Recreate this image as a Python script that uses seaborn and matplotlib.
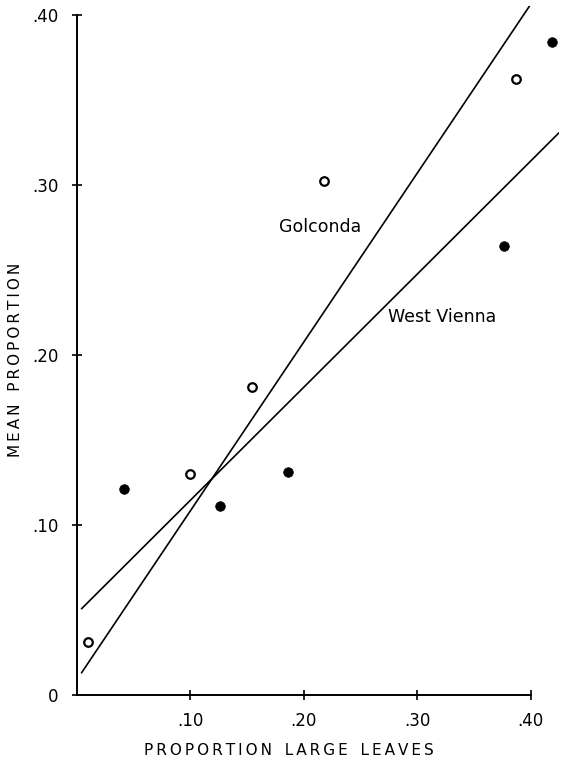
import numpy as np
import pandas as pd
import matplotlib
matplotlib.use("Agg")
import matplotlib.pyplot as plt
import seaborn as sns

# Golconda (open circles)
golconda_x = [0.010, 0.100, 0.154, 0.218, 0.387]
golconda_y = [0.031, 0.130, 0.181, 0.302, 0.362]
# West Vienna (filled circles)
vienna_x = [0.041, 0.126, 0.186, 0.376, 0.419]
vienna_y = [0.121, 0.111, 0.131, 0.264, 0.384]

# fitted lines: slope, intercept and x-extent
golconda_fit = (0.993, 0.009)
golconda_span = [0.004, 0.400]
vienna_fit = (0.665, 0.048)
vienna_span = [0.004, 0.425]

x_ticks = [0.10, 0.20, 0.30, 0.40]
x_tick_labels = [".10", ".20", ".30", ".40"]
y_ticks = [0.0, 0.10, 0.20, 0.30, 0.40]
y_tick_labels = ["0", ".10", ".20", ".30", ".40"]


def spaced(s):
    # loose letter spacing like the original lettering
    thin = "\u2009"
    return ("  " + thin).join(thin.join(w) for w in s.split(" "))


sns.set_style("ticks")
plt.rcParams["font.family"] = ["DejaVu Sans"]
plt.rcParams["text.color"] = "black"
plt.rcParams["axes.labelcolor"] = "black"
plt.rcParams["xtick.color"] = "black"
plt.rcParams["ytick.color"] = "black"
plt.rcParams["axes.edgecolor"] = "black"

fig = plt.figure(figsize=(5.62, 7.67), dpi=100)
ax = fig.add_axes([0.137, 0.094, 0.858, 0.898])

pts = pd.concat([
    pd.DataFrame({"x": golconda_x, "y": golconda_y, "site": "Golconda"}),
    pd.DataFrame({"x": vienna_x, "y": vienna_y, "site": "West Vienna"}),
])
sns.scatterplot(data=pts[pts.site == "Golconda"], x="x", y="y", ax=ax,
                s=38, facecolor="white", edgecolor="black", linewidth=1.6,
                legend=False, clip_on=False, zorder=3)
sns.scatterplot(data=pts[pts.site == "West Vienna"], x="x", y="y", ax=ax,
                s=48, color="black", edgecolor="black", linewidth=0.5,
                legend=False, clip_on=False, zorder=3)

for (m, b), span in [(golconda_fit, golconda_span), (vienna_fit, vienna_span)]:
    xs = np.array(span)
    sns.lineplot(x=xs, y=m * xs + b, ax=ax, color="black", linewidth=1.2)

ax.text(0.214, 0.275, "Golconda", ha="center", va="center", fontsize=12.5)
ax.text(0.322, 0.222, "West Vienna", ha="center", va="center", fontsize=12.5)

ax.set_xlim(0, 0.425)
ax.set_ylim(0, 0.405)
ax.set_xticks(x_ticks)
ax.set_xticklabels(x_tick_labels)
ax.set_yticks(y_ticks)
ax.set_yticklabels(y_tick_labels)
ax.tick_params(direction="inout", length=7, width=1.2, labelsize=12, pad=10)
ax.tick_params(axis="x", pad=9)
sns.despine(ax=ax)
ax.spines["left"].set_bounds(0, 0.40)
ax.spines["bottom"].set_bounds(0, 0.40)
for s in ("left", "bottom"):
    ax.spines[s].set_linewidth(1.4)

ax.set_xlabel("")
ax.set_ylabel("")
fig.text(0.514, 0.022, spaced("PROPORTION LARGE LEAVES"), fontsize=11,
         ha="center", va="center")
fig.text(0.027, 0.531, spaced("MEAN PROPORTION"), fontsize=11,
         ha="center", va="center", rotation=90)

fig.savefig("out.png", dpi=100)
